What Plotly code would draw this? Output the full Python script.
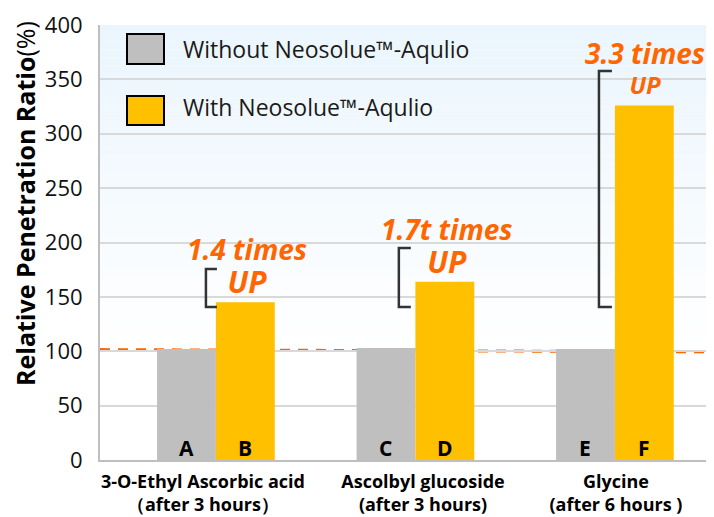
import plotly.graph_objects as go

# ---- data ----
groups = [0, 1, 2]
label_pos = [-0.065, 1.038, 2.005]
category_labels = ["3-O-Ethyl Ascorbic acid<br>（after 3 hours）",
                   "Ascolbyl glucoside<br>(after 3 hours)",
                   "Glycine<br>(after 6 hours )"]
series_names = ["Without Neosolue™-Aqulio", "With Neosolue™-Aqulio"]
without_vals = [102, 103, 102]
with_vals = [145, 164, 326]
without_letters = ["A", "C", "E"]
with_letters = ["B", "D", "F"]
y_ticks = [0, 50, 100, 150, 200, 250, 300, 350, 400]
ratio_texts = ["1.4 times", "1.7t times", "3.3 times"]

GRAY = "#bfbfbf"
GOLD = "#ffc000"
ORANGE = "#ff6600"
FONT = "Open Sans"

W, H = 714, 517
OFF = 8  # page body margin offset
L, R, T, B = 100 - OFF, 0, 25 - OFF, H - (460 - OFF)
PW, PH = W - L - R, H - T - B
X0 = -0.581
XSCALE = 199.5
X1 = X0 + PW / XSCALE
BARGAP = 0.41
HALF = (1 - BARGAP) / 4  # offset of each bar centre from group centre


def px_x(px):
    return (px - OFF - L) / PW


def px_y(py):
    return (H - B - (py - OFF)) / PH


fig = go.Figure()
fig.add_trace(go.Bar(x=groups, y=without_vals, name=series_names[0],
                     marker=dict(color=GRAY, line=dict(width=0)),
                     showlegend=False, hoverinfo="skip"))
fig.add_trace(go.Bar(x=groups, y=with_vals, name=series_names[1],
                     marker=dict(color=GOLD, line=dict(width=0)),
                     showlegend=False, hoverinfo="skip"))

annotations = []
# bar letters near the base of each bar
for g, la, lb in zip(groups, without_letters, with_letters):
    for xx, t in ((g - HALF, la), (g + HALF, lb)):
        annotations.append(dict(text=f"<b>{t}</b>", x=xx, y=0, xref="x", yref="y",
                                yanchor="middle", yshift=12, showarrow=False,
                                font=dict(family=FONT, size=21, color="black")))

shapes = []
# gradient background
n = 40
for i in range(n):
    y0 = 100 + 300 * i / n
    y1 = 100 + 300 * (i + 1) / n
    f = (i + 0.5) / n
    r = round(255 - (255 - 234) * f)
    g = round(255 - (255 - 245) * f)
    b = round(255 - (255 - 253) * f)
    shapes.append(dict(type="rect", xref="paper", yref="y", x0=0, x1=1,
                       y0=y0, y1=y1, fillcolor=f"rgb({r},{g},{b})",
                       line=dict(width=0), layer="below"))
# dashed reference line
shapes.append(dict(type="line", xref="paper", yref="y", x0=0, x1=1,
                   y0=101.5, y1=99.5,
                   line=dict(color=ORANGE, width=3, dash="10px,8px"),
                   layer="between"))


# brackets (in data coords)
def bracket(x1, x2, ytop, ybot):
    return dict(type="path", xref="x", yref="y",
                path=f"M {x2},{ytop} L {x1},{ytop} L {x1},{ybot} L {x2},{ybot}",
                line=dict(color="#333333", width=2.5))


shapes.append(bracket(-0.050, 0.005, 175.6, 140.7))
shapes.append(bracket(0.917, 0.977, 195.0, 140.7))
shapes.append(bracket(1.920, 1.985, 357.7, 140.7))

# legend swatches
for (top, bot), col in zip([(34, 64), (96, 125)], [GRAY, GOLD]):
    shapes.append(dict(type="rect", xref="paper", yref="paper",
                       x0=px_x(127), x1=px_x(164), y0=px_y(bot), y1=px_y(top),
                       fillcolor=col, line=dict(color="black", width=2)))

for name, yc in zip(series_names, [49, 107]):
    annotations.append(dict(text=name, xref="paper", yref="paper",
                            x=px_x(181), y=px_y(yc), xanchor="left", yanchor="middle",
                            showarrow=False,
                            font=dict(family=FONT, size=23, color="#1a1a1a")))

# ratio annotations (two lines each)
ann_specs = [
    (ratio_texts[0], 0.155, 178.4, 25, 28, 30),
    (ratio_texts[1], 1.158, 196.8, 25, 28, 30),
    (ratio_texts[2], 2.152, 360.5, 23, 28, 24),
]
for txt, x, y, base, s1, s2 in ann_specs:
    annotations.append(dict(
        text=(f"<b><i><span style='font-size:{s1}px'>{txt}</span><br>"
              f"<span style='font-size:{s2}px'>UP</span></i></b>"),
        x=x, y=y, xref="x", yref="y", showarrow=False,
        xanchor="center", yanchor="middle", align="center",
        font=dict(family=FONT, size=base, color=ORANGE)))

# y-axis title
annotations.append(dict(text="<b>Relative Penetration Ratio</b>(%)", xref="paper", yref="paper",
                        x=px_x(25), y=px_y(204), textangle=-90, showarrow=False,
                        xanchor="center", yanchor="middle", borderpad=0,
                        font=dict(family=FONT, size=25, color="black")))

fig.update_layout(
    width=W, height=H,
    margin=dict(l=L, r=R, t=T, b=B, autoexpand=False),
    paper_bgcolor="white", plot_bgcolor="white",
    barmode="group", bargap=BARGAP, bargroupgap=0,
    shapes=shapes, annotations=annotations,
    showlegend=False,
    xaxis=dict(range=[X0, X1], tickvals=label_pos, ticktext=category_labels,
               showgrid=False, zeroline=False, showline=True, linecolor="#bfbfbf",
               linewidth=2, ticks="", ticklabelstandoff=4, automargin=False,
               tickfont=dict(family=FONT, size=18, color="black", weight="bold")),
    yaxis=dict(range=[0, 400], tickvals=y_ticks, showgrid=True, gridcolor="#d9d9d9",
               gridwidth=2, zeroline=False, showline=True, linecolor="#bfbfbf",
               linewidth=2, ticks="", ticklabelstandoff=11, automargin=False,
               tickfont=dict(family=FONT, size=22, color="#111111")),
)

fig.write_html("out.html")
